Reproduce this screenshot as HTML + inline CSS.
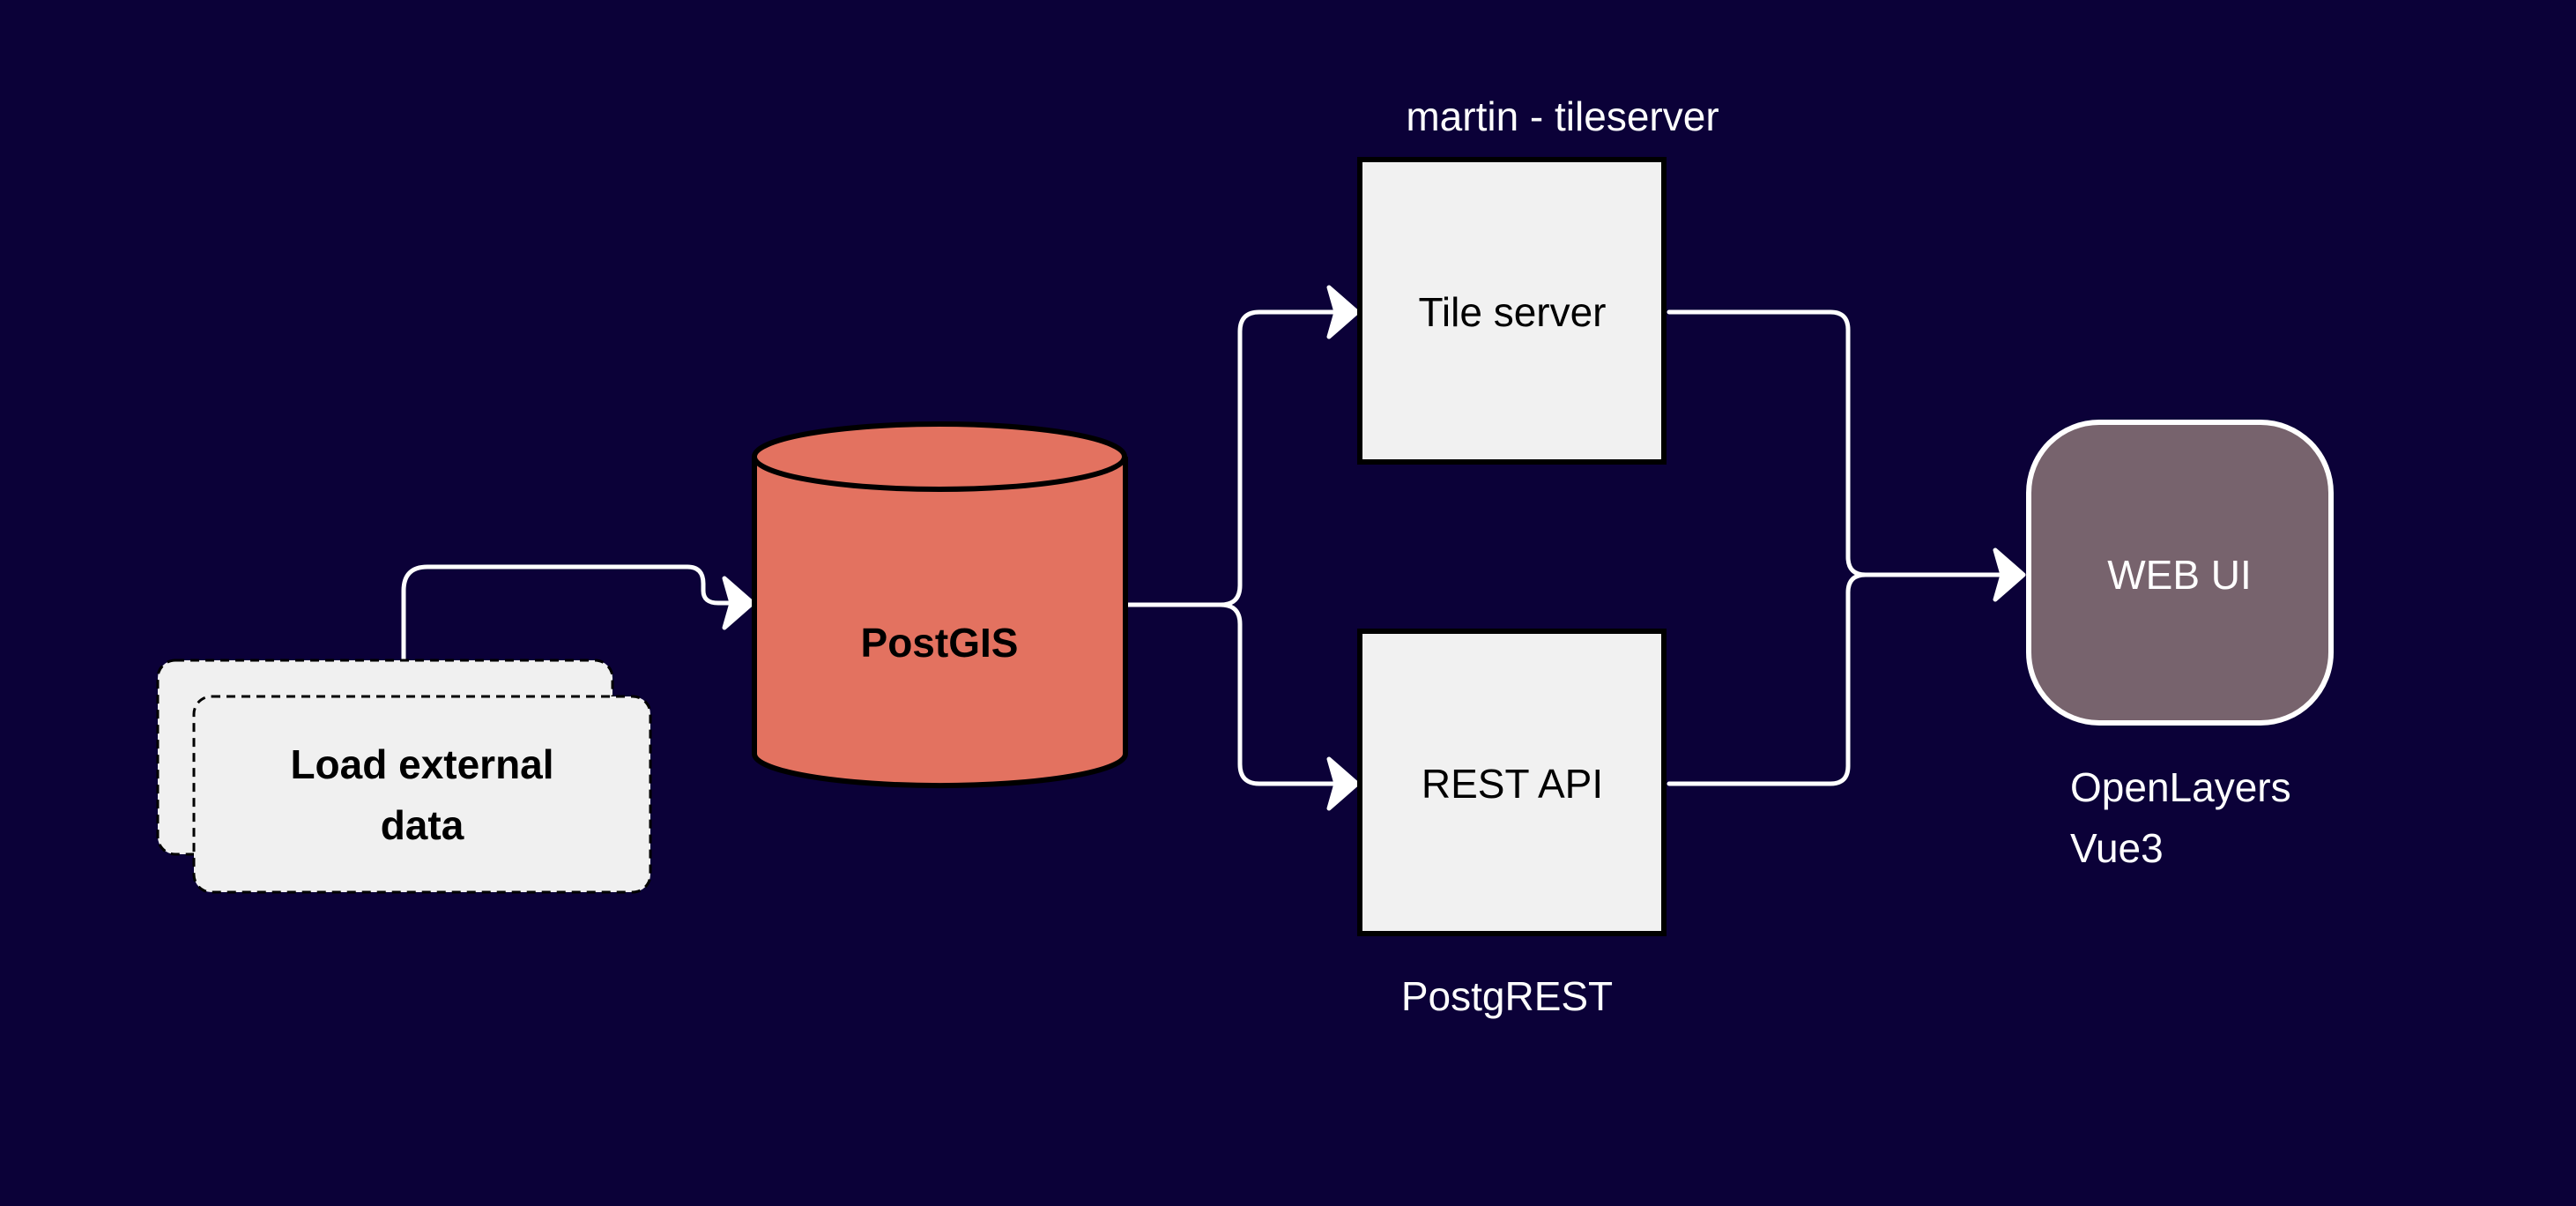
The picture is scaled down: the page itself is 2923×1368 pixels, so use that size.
<!DOCTYPE html>
<html><head><meta charset="utf-8"><style>
html,body{margin:0;padding:0;background:#0b0138;}
svg{display:block}
text{font-family:"Liberation Sans",sans-serif;}
</style></head><body>
<svg width="2923" height="1368" viewBox="0 0 2923 1368" xmlns="http://www.w3.org/2000/svg">
<rect width="2923" height="1368" fill="#0b0138"/>
<g fill="none" stroke="#fff" stroke-width="5" stroke-linejoin="round" stroke-linecap="round">
<path d="M458 749 V670 Q458 643 485 643 H780 Q798 643 798 662 V670 Q798 684 815 684 H850"/>
<path d="M1277 686 H1385 Q1407 686 1407 664 V376 Q1407 354 1429 354 H1537"/>
<path d="M1385 686 Q1407 686 1407 708 V867 Q1407 889 1429 889 H1537"/>
<path d="M1894 354 H2077 Q2097 354 2097 374 V632 Q2097 652 2117 652 H2294"/>
<path d="M1894 889 H2077 Q2097 889 2097 869 V672 Q2097 652 2117 652"/>
</g>
<g fill="#fff" stroke="#fff" stroke-width="5" stroke-linejoin="round">
<path d="M822 656 L854 684 L822 712 L830 684 Z"/>
<path d="M1508 326 L1540 354 L1508 382 L1516 354 Z"/>
<path d="M1508 861 L1540 889 L1508 917 L1516 889 Z"/>
<path d="M2264 624 L2296 652 L2264 680 L2272 652 Z"/>
</g>
<rect x="179" y="749" width="516" height="220" rx="20" fill="#f0f0f0" stroke="#000" stroke-width="3" stroke-dasharray="10 7"/>
<rect x="220" y="790" width="518" height="222" rx="20" fill="#f0f0f0" stroke="#000" stroke-width="3" stroke-dasharray="10 7"/>
<text x="479" y="883" font-size="46" font-weight="bold" text-anchor="middle" fill="#000">Load external</text>
<text x="479" y="952" font-size="46" font-weight="bold" text-anchor="middle" fill="#000">data</text>
<path d="M856 518 V855 A210 36 0 0 0 1277 855 V518" fill="#e37260" stroke="#000" stroke-width="6"/>
<ellipse cx="1066" cy="518" rx="210" ry="37" fill="#e37260" stroke="#000" stroke-width="6"/>
<text x="1066" y="745" font-size="46" font-weight="bold" text-anchor="middle" fill="#000">PostGIS</text>
<rect x="1543" y="181" width="345" height="343" fill="#f1f1f1" stroke="#000" stroke-width="6"/>
<rect x="1543" y="716" width="345" height="343" fill="#f1f1f1" stroke="#000" stroke-width="6"/>
<text x="1716" y="370" font-size="46" text-anchor="middle" fill="#000">Tile server</text>
<text x="1716" y="905" font-size="46" text-anchor="middle" fill="#000">REST API</text>
<text x="1773" y="148" font-size="46" text-anchor="middle" fill="#fff">martin - tileserver</text>
<text x="1710" y="1146" font-size="46" text-anchor="middle" fill="#fff">PostgREST</text>
<rect x="2302" y="479" width="343" height="341" rx="80" fill="#77636d" stroke="#fff" stroke-width="6"/>
<text x="2473" y="668" font-size="46" text-anchor="middle" fill="#fff">WEB UI</text>
<text x="2349" y="909" font-size="46" fill="#fff">OpenLayers</text>
<text x="2349" y="978" font-size="46" fill="#fff">Vue3</text>
</svg>
</body></html>
